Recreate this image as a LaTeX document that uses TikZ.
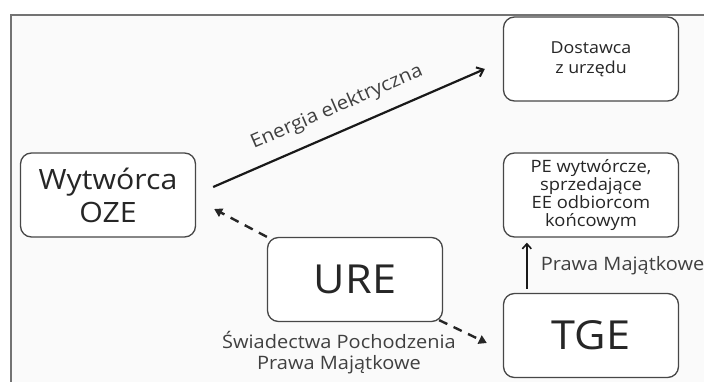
\documentclass[tikz,border=0pt]{standalone}
\usepackage{fontspec}
\setmainfont[FakeStretch=1.08]{Open Sans}
\usetikzlibrary{arrows.meta,calc}
\begin{document}
\begin{tikzpicture}[x=1pt,y=-1pt,
  box/.style={draw=black!72, line width=1.3pt, rounded corners=11pt, fill=white,
    minimum width=175pt, minimum height=84pt, inner sep=0pt, align=center, text=black!85},
  bigtxt/.style={font=\fontsize{28}{33}\selectfont},
  dosttxt/.style={font=\fontsize{16.5}{20}\selectfont},
  petxt/.style={font=\fontsize{17}{18.3}\selectfont},
  hugetxt/.style={font=\fontsize{40}{44}\selectfont},
  lbl/.style={font=\fontsize{18.5}{21}\selectfont, text=black!75, align=center, inner sep=0pt},
  elbl/.style={font=\fontsize{19}{21}\selectfont, text=black!75, inner sep=0pt},
  solidarrow/.style={line width=2.2pt, black!90, -{Straight Barb[length=6pt,width=10pt,line width=2pt]}},
  dasharrow/.style={line width=2.4pt, black!85, dash pattern=on 9pt off 7pt, -{Triangle[length=8pt,width=9pt]}},
  uparrow/.style={line width=1.8pt, black!90, -{Straight Barb[length=5pt,width=9pt,line width=1.6pt]}}
]
\useasboundingbox (0,0) rectangle (704,382);
\fill[white] (0,0) rectangle (704,382);
\fill[black!2] (11,15) rectangle (704,382);
\draw[black!55, line width=2pt] (11,382) -- (11,15) -- (704,15);

\node[box, bigtxt] (wyt) at (108,195) {Wytwórca\\OZE};
\node[box, dosttxt] (dost) at (591,59) {Dostawca\\z urzędu};
\node[box, petxt] (pe) at (591,195) {PE wytwórcze,\\sprzedające\\EE odbiorcom\\końcowym};
\node[box, hugetxt] (ure) at (355,279.5) {URE};
\node[box, hugetxt] (tge) at (591,335.5) {TGE};

\coordinate (eS) at ($(wyt.east)+(17,-8)$);
\coordinate (eE) at ($(dost.west)+(-18,10)$);
\draw[solidarrow] (eS) -- (eE) node[pos=0.49, above=13pt, sloped, elbl] {Energia elektryczna};

\draw[dasharrow] (ure.north west) -- ($(wyt.east)+(18,14)$);
\draw[dasharrow] ($(ure.south east)+(-4,-2)$) -- ($(tge.west)+(-16,7.5)$);

\draw[uparrow] ($(tge.north west)+(24,-4)$) -- ($(pe.south west)+(24,5)$)
  node[midway, right=13pt, lbl] {Prawa Majątkowe};

\node[lbl, anchor=north] (swiad) at (339,331) {Świadectwa Pochodzenia\\Prawa Majątkowe};
\end{tikzpicture}
\end{document}
